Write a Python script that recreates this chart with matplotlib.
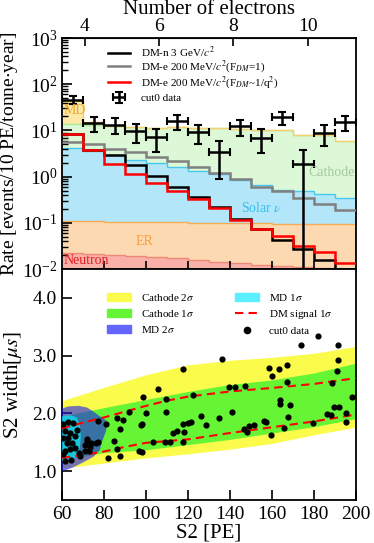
import numpy as np
import matplotlib
matplotlib.use('Agg')
import matplotlib.pyplot as plt
from matplotlib.lines import Line2D
from matplotlib.patches import Patch, Polygon
from matplotlib.ticker import LogLocator, NullFormatter, FixedLocator

plt.rcParams['font.family'] = ['Liberation Serif', 'DejaVu Serif']
plt.rcParams['mathtext.fontset'] = 'stix'

# ---------------- top panel data ----------------
bin_edges = np.arange(60, 201, 10)
bin_centers = bin_edges[:-1] + 5

neutron = [0.021, 0.0205, 0.019, 0.018, 0.017, 0.016, 0.015, 0.0135, 0.0125, 0.0115, 0.0105, 0.0098, 0.0095, 0.009]
er = [0.086, 0.0855, 0.086, 0.086, 0.086, 0.085, 0.085, 0.0855, 0.0845, 0.0845, 0.0845, 0.0842, 0.0825, 0.082]
solar_nu = [4.09, 3.49, 2.9, 2.2, 1.83, 1.5, 1.25, 1.05, 0.75, 0.56, 0.415, 0.386, 0.318, 0.259]
cathode = [9.8, 9.4, 9.5, 9.7, 9.6, 10.4, 10.2, 9.9, 9.7, 9.8, 9.8, 7.3, 7.4, 5.55]
md = [30.0, 2.0, 0, 0, 0, 0, 0, 0, 0, 0, 0, 0, 0, 0]

dm_n_3gev = [8.2, 3.7, 2.95, 1.8, 1.05, 0.61, 0.37, 0.22, 0.12, 0.072, 0.042, 0.027, 0.0155, 0.008]
dm_e_f1 = [5.6, 5.0, 4.0, 3.4, 2.7, 2.15, 1.65, 1.2, 0.9, 0.61, 0.48, 0.35, 0.26, 0.19]
dm_e_fq2 = [8.2, 3.7, 1.89, 1.15, 0.74, 0.50, 0.32, 0.21, 0.117, 0.073, 0.052, 0.032, 0.023, 0.0137]

cut0_rate = [46, 14.4, 13.4, 9.6, 7.1, 15.9, 9.2, 3.4, 12.2, 6.9, 19.5, 1.9, 8.8, 15.0]
cut0_err = [9.3, 5.2, 5.0, 4.3, 3.7, 5.5, 4.2, 2.5, 4.8, 3.6, 6.1, 1.9, 4.1, 5.3]

g2 = 17.7
electron_ticks = [4, 6, 8, 10]

# ---------------- bottom panel data ----------------
band_s2 = [60, 80, 100, 120, 140, 160, 180, 200]
cath2_hi = [2.22, 2.45, 2.67, 2.84, 2.92, 2.97, 3.04, 3.16]
cath2_lo = [1.05, 1.14, 1.23, 1.30, 1.38, 1.48, 1.63, 1.76]
cath1_hi = [1.95, 2.10, 2.24, 2.38, 2.50, 2.58, 2.70, 2.87]
cath1_lo = [1.20, 1.32, 1.37, 1.46, 1.55, 1.66, 1.77, 1.91]

dm_s2 = [60, 70, 80, 90, 100, 110, 120, 140, 160, 180, 200]
dm_hi = [1.74, 1.84, 1.93, 2.03, 2.13, 2.22, 2.29, 2.38, 2.44, 2.51, 2.61]
dm_lo = [1.23, 1.28, 1.34, 1.42, 1.49, 1.52, 1.55, 1.66, 1.76, 1.86, 1.98]

md2_s2 = [60, 63, 68, 72, 75, 78, 81, 81.5, 81, 80, 79, 78, 75, 70, 65, 62, 60]
md2_w = [2.08, 2.12, 2.13, 2.10, 2.03, 1.95, 1.88, 1.82, 1.70, 1.60, 1.50, 1.36, 1.25, 1.15, 1.06, 1.02, 1.01]
md1_s2 = [60, 64, 67, 68.5, 69, 68.5, 67, 64, 60]
md1_w = [1.95, 1.97, 1.93, 1.80, 1.60, 1.40, 1.25, 1.18, 1.17]

pts_s2 = [182, 174, 191.5, 117.7, 136, 158.6, 159.9, 163.5, 167, 167.3, 191.5, 191.2, 188.6,
          105.6, 98.5, 109.6, 122.2, 139.6, 142.4, 147.1, 163.6, 163.6, 168.7, 189.5, 192, 198.3,
          91.8, 100, 109.6, 126, 141, 186, 188, 195.4, 135, 195.4, 121.3, 120, 128.7, 117.7,
          115, 112.7, 118.2, 117.7, 109.2, 111.4, 103.5, 97.7, 98, 96.9, 81.9, 87.8, 86.2, 84.6,
          87.8, 89, 86.2, 81.1, 77.2, 146.6, 148.1, 148.9, 151.3, 156, 157.1, 159.6, 165.9, 167.5,
          179.7, 60.6, 63, 65, 61.4, 63.8, 63, 60.6, 66.2, 67.3, 62.2, 64.6, 66.2, 63.8, 61.4,
          60.3, 61.4, 64.1, 68.2, 68.5, 70.9, 71.7, 72, 74, 76.1, 77.2, 72.9, 70.9, 73.2, 98.2]
pts_w = [3.34, 3.18, 3.18, 2.77, 2.94, 2.79, 2.65, 2.77, 2.84, 2.55, 2.93, 2.74, 2.53,
         2.42, 2.29, 2.25, 2.32, 2.45, 2.45, 2.47, 2.24, 2.16, 2.14, 2.11, 2.11, 2.28,
         2.03, 2.00, 2.02, 1.96, 2.03, 1.99, 1.98, 2.01, 1.92, 1.85, 1.85, 1.83, 1.79, 1.82,
         1.70, 1.66, 1.67, 1.50, 1.50, 1.50, 1.50, 1.79, 1.33, 1.35, 1.23, 1.26, 1.39, 1.52,
         1.73, 1.89, 1.92, 1.82, 1.86, 1.73, 1.67, 1.78, 1.80, 1.87, 1.85, 1.63, 1.75, 1.94,
         1.83, 1.81, 1.85, 1.83, 1.69, 1.66, 1.58, 1.58, 1.60, 1.72, 1.49, 1.49, 1.40, 1.39, 1.35,
         1.29, 1.17, 1.20, 1.32, 1.26, 1.46, 1.56, 1.52, 1.49, 1.49, 1.50, 1.35, 1.35, 1.41, 1.81]

# ---------------- figure ----------------
fig = plt.figure(figsize=(3.74, 5.43), dpi=100)
ax1 = fig.add_axes([0.1658, 0.5046, 0.786, 0.4254])
ax2 = fig.add_axes([0.1658, 0.0792, 0.786, 0.4254])

# stacked backgrounds
comps = [(neutron, '#f8b0a8', '#f08878'),
         (er, '#fdd9b2', '#f5ac55'),
         (solar_nu, '#b2e6f8', '#48c8f0'),
         (cathode, '#dcf8d6', '#a6ea92'),
         (md, '#fde8a6', '#f8d070')]
base = np.full(len(bin_centers), 1e-3)
for vals, fc, ec in comps:
    top = base + np.asarray(vals)
    ax1.stairs(top, bin_edges, baseline=base, fill=True, color=fc, lw=0, zorder=1)
    if np.any(np.asarray(vals) > 0):
        ax1.stairs(top, bin_edges, baseline=None, color=ec, lw=1.0, zorder=1.5)
    base = top

ax1.stairs(dm_n_3gev, bin_edges, baseline=None, color='black', lw=1.8, zorder=3)
ax1.stairs(dm_e_f1, bin_edges, baseline=None, color='#808080', lw=1.8, zorder=3)
ax1.stairs(dm_e_fq2, bin_edges, baseline=None, color='red', lw=1.8, zorder=3.1)

eb = ax1.errorbar(bin_centers, cut0_rate, xerr=5, yerr=cut0_err, fmt='none', ecolor='black',
                  elinewidth=1.8, capsize=3, capthick=1.5, zorder=4)

ax1.set_yscale('log')
ax1.set_xlim(60, 200)
ax1.set_ylim(1e-2, 1e3)
ax1.xaxis.set_major_locator(FixedLocator([80, 100, 120, 140, 160, 180]))
ax1.tick_params(axis='x', which='both', direction='in', length=6, width=1.2, labelbottom=False)
ax1.yaxis.set_major_locator(LogLocator(base=10, numticks=10))
ax1.yaxis.set_minor_locator(LogLocator(base=10, subs=np.arange(2, 10), numticks=20))
ax1.yaxis.set_minor_formatter(NullFormatter())
ax1.tick_params(axis='y', which='major', direction='in', length=7, width=1.2, labelsize=14, pad=3)
ax1.tick_params(axis='y', which='minor', direction='in', length=4, width=1.0)
ax1.set_ylabel('Rate [events/10 PE/tonne$\\cdot$year]', fontsize=14, labelpad=2)
for s in ax1.spines.values():
    s.set_linewidth(1.3)

secax = ax1.secondary_xaxis('top', functions=(lambda x: x / g2, lambda e: e * g2))
secax.set_xticks(electron_ticks)
secax.tick_params(direction='in', length=6, width=1.2, labelsize=14, pad=2)
secax.set_xlabel('Number of electrons', fontsize=15, labelpad=3)

ax1.text(60.5, 27, 'MD', color='#f0a830', fontsize=10, va='center', ha='left', zorder=5)
ax1.text(199.5, 1.2, 'Cathode', color='#a8c8a0', fontsize=10, va='center', ha='right', zorder=5)
ax1.text(155, 0.21, 'Solar $\\nu$', color='#38bff0', fontsize=10, va='center', ha='center', zorder=5)
ax1.text(99.5, 0.04, 'ER', color='#f5a040', fontsize=10, va='center', ha='center', zorder=5)
ax1.text(60.5, 0.0155, 'Neutron', color='#e02020', fontsize=10, va='center', ha='left', zorder=5)

h1 = [Line2D([], [], color='black', lw=1.8),
      Line2D([], [], color='#808080', lw=1.8),
      Line2D([], [], color='red', lw=1.8),
      eb]
l1 = ['DM-n 3 GeV/$c^2$',
      'DM-e 200 MeV/$c^2$(F$_{DM}$=1)',
      'DM-e 200 MeV/$c^2$(F$_{DM}$~1/q$^2$)',
      'cut0 data']
row_y = [0.939, 0.874, 0.805, 0.740]
for i, (h, l, yy) in enumerate(zip(h1, l1, row_y)):
    lg = ax1.legend([h], [l], loc='center left', bbox_to_anchor=(0.156, yy), frameon=False,
                    fontsize=8, handlelength=2.0, handletextpad=1.0, borderpad=0.0,
                    borderaxespad=0.0)
    if i < len(h1) - 1:
        ax1.add_artist(lg)

# bottom panel
ax2.fill_between(band_s2, cath2_lo, cath2_hi, color='#fbfb4c', lw=0, zorder=1)
ax2.fill_between(band_s2, cath1_lo, cath1_hi, color='#66f535', lw=0, zorder=2)
ax2.add_patch(Polygon(np.column_stack([md2_s2, md2_w]), closed=True, facecolor='#1a1af0',
                      alpha=0.6, lw=0, zorder=3))
ax2.add_patch(Polygon(np.column_stack([md1_s2, md1_w]), closed=True, facecolor='#00ffff',
                      alpha=0.6, lw=0, zorder=4))
ax2.plot(dm_s2, dm_hi, color='red', ls=(0, (4, 2.5)), lw=1.5, zorder=5)
ax2.plot(dm_s2, dm_lo, color='red', ls=(0, (4, 2.5)), lw=1.5, zorder=5)
ax2.scatter(pts_s2, pts_w, s=20, color='black', lw=0, zorder=6)

ax2.set_xlim(60, 200)
ax2.set_ylim(0.5, 4.5)
ax2.set_xticks([60, 80, 100, 120, 140, 160, 180, 200])
ax2.set_yticks([1.0, 2.0, 3.0, 4.0])
ax2.set_yticklabels(['1.0', '2.0', '3.0', '4.0'])
ax2.tick_params(direction='in', length=7, width=1.2, labelsize=14, pad=4)
ax2.set_xlabel('S2 [PE]', fontsize=15, labelpad=1)
ax2.set_ylabel('S2 width[$\\mu s$]', fontsize=15, labelpad=6)
for s in ax2.spines.values():
    s.set_linewidth(1.3)

h2 = [Patch(color='#fbfb4c'), Patch(color='#66f535'), Patch(color='#6464ff'),
      Patch(color='#5af0ff'), Line2D([], [], color='red', ls=(0, (4, 2.5)), lw=1.5),
      Line2D([], [], color='black', marker='o', ls='none', markersize=4.5)]
l2 = ['Cathode 2$\\sigma$', 'Cathode 1$\\sigma$', 'MD 2$\\sigma$',
      'MD 1$\\sigma$', 'DM signal 1$\\sigma$', 'cut0 data']
ax2.legend(h2, l2, loc='upper left', bbox_to_anchor=(0.13, 0.93), frameon=False, fontsize=8,
           ncol=2, handlelength=2.2, handletextpad=0.9, labelspacing=0.45, columnspacing=3.6,
           borderaxespad=0.2)

fig.savefig('out.png', dpi=100)
